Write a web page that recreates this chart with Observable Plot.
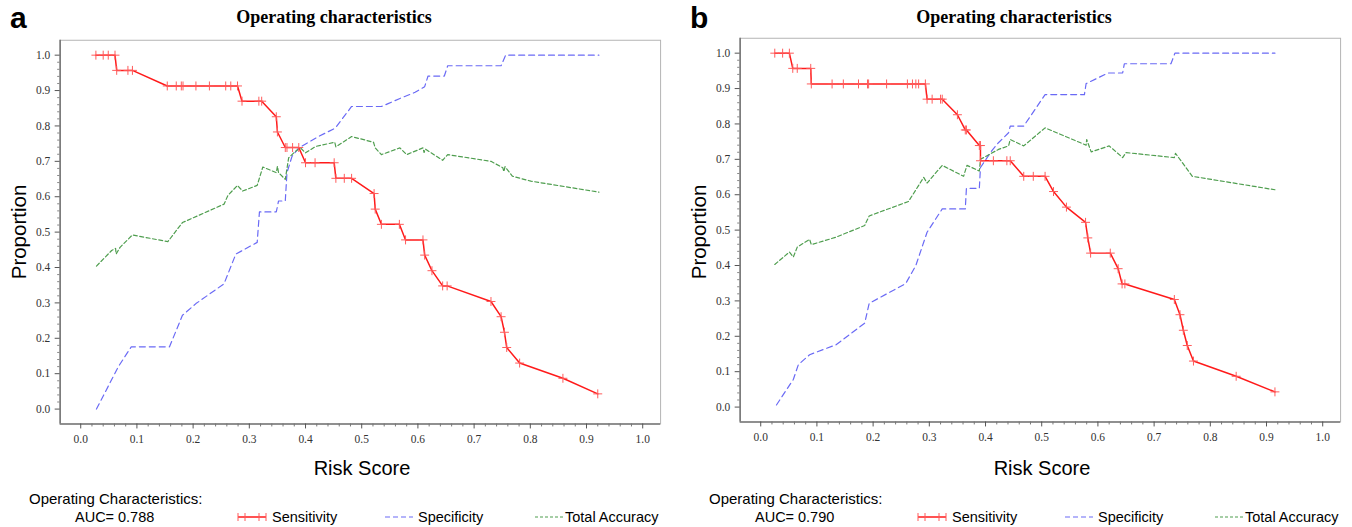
<!DOCTYPE html>
<html><head><meta charset="utf-8">
<script src="https://cdn.jsdelivr.net/npm/d3@7"></script>
<script src="https://cdn.jsdelivr.net/npm/@observablehq/plot@0.6"></script>
<style>
body{margin:0;background:#fff;}
#wrap{position:relative;width:1352px;height:527px;overflow:hidden;font-family:"Liberation Sans",Arial,sans-serif;color:#000;background:#fff;}
.panel{position:absolute;top:0;width:676px;height:527px;}
.plot{position:absolute;left:0;}
.plot text{font-family:"Liberation Serif","Times New Roman",serif !important;}
.letter{position:absolute;left:10px;top:3px;font-weight:bold;font-size:30px;line-height:1;}
.title{position:absolute;top:8px;transform:translateX(-50%);font-family:"Liberation Serif",serif;font-weight:bold;font-size:18px;line-height:1.1;white-space:nowrap;}
.ylab{position:absolute;left:19px;top:232px;transform:translate(-50%,-50%) rotate(-90deg);font-size:20.5px;white-space:nowrap;line-height:1;}
.xlab{position:absolute;left:362px;top:468px;transform:translate(-50%,-50%);font-size:20px;white-space:nowrap;line-height:1;}
.leg{position:absolute;font-size:14.5px;white-space:nowrap;transform:translateY(-50%);line-height:1;}
.sym{position:absolute;transform:translateY(-50%);}
</style></head>
<body>
<div id="wrap"></div>
<script>
// ---------- data ----------
const xTicks = [0.0,0.1,0.2,0.3,0.4,0.5,0.6,0.7,0.8,0.9,1.0];
const yTicks = [0.0,0.1,0.2,0.3,0.4,0.5,0.6,0.7,0.8,0.9,1.0];
const panelLetters = ["a","b"];
const panelTitles = ["Operating characteristics","Operating characteristics"];
const aucValues = ["0.788","0.790"];
const seriesNames = ["Sensitivity","Specificity","Total Accuracy"];

// Panel a
const aSensX = [0.027,0.040,0.049,0.061, 0.064,0.084,0.092, 0.154,0.170,0.179,0.182,0.205,0.229,0.258,0.267,0.279, 0.287,0.317,0.322, 0.348,0.350,0.364,0.367,0.377,0.388, 0.400,0.417,0.451, 0.454,0.469,0.482, 0.522,0.524,0.535,0.567, 0.578,0.609,0.612,0.625,0.644,0.652, 0.730,0.748,0.754,0.758,0.781,0.858,0.920];
const aSensY = [1.000,1.000,1.000,1.000, 0.957,0.957,0.957, 0.913,0.913,0.913,0.913,0.913,0.913,0.913,0.913,0.913, 0.870,0.870,0.870, 0.826,0.783,0.739,0.739,0.739,0.739, 0.696,0.696,0.696, 0.652,0.652,0.652, 0.609,0.565,0.522,0.522, 0.478,0.478,0.435,0.391,0.348,0.348, 0.304,0.261,0.217,0.174,0.130,0.087,0.043];
const aSpecX = [0.028,0.067,0.090,0.158,0.181,0.205,0.255,0.276,0.314,0.318,0.348,0.352,0.364,0.367,0.376,0.388,0.423,0.453,0.482,0.535,0.547,0.567,0.595,0.612,0.618,0.647,0.653,0.748,0.756,0.922];
const aSpecY = [0.000,0.120,0.176,0.176,0.265,0.298,0.354,0.438,0.471,0.557,0.557,0.588,0.588,0.668,0.714,0.738,0.770,0.794,0.855,0.855,0.863,0.877,0.895,0.911,0.941,0.941,0.970,0.970,1.000,1.000];
const aAccX = [0.028,0.055,0.062,0.063,0.070,0.092,0.155,0.181,0.255,0.262,0.279,0.288,0.314,0.324,0.348,0.350,0.352,0.364,0.370,0.382,0.391,0.400,0.418,0.452,0.454,0.482,0.521,0.524,0.535,0.568,0.580,0.609,0.611,0.613,0.644,0.653,0.730,0.751,0.753,0.755,0.768,0.801,0.922];
const aAccY = [0.404,0.448,0.454,0.438,0.457,0.492,0.473,0.527,0.579,0.604,0.632,0.616,0.632,0.684,0.668,0.686,0.668,0.649,0.710,0.728,0.738,0.724,0.742,0.754,0.741,0.770,0.754,0.738,0.719,0.738,0.719,0.738,0.725,0.735,0.703,0.719,0.700,0.682,0.671,0.685,0.658,0.644,0.613];

// Panel b
const bSensX = [0.025,0.039,0.051, 0.057,0.065,0.089, 0.090,0.127,0.147,0.174,0.190,0.192,0.224,0.261,0.270,0.276,0.281,0.293, 0.296,0.305,0.320,0.323, 0.350,0.364,0.366,0.389,0.391, 0.391,0.414,0.438,0.444, 0.468,0.485,0.506, 0.521,0.544,0.578,0.582,0.587,0.622,0.636,0.643,0.648, 0.736,0.746,0.752,0.759,0.770,0.846,0.915];
const bSensY = [1.000,1.000,1.000, 0.957,0.957,0.957, 0.913,0.913,0.913,0.913,0.913,0.913,0.913,0.913,0.913,0.913,0.913,0.913, 0.870,0.870,0.870,0.870, 0.826,0.783,0.783,0.739,0.739, 0.696,0.696,0.696,0.696, 0.652,0.652,0.652, 0.609,0.565,0.522,0.478,0.435,0.435,0.391,0.348,0.348, 0.304,0.261,0.217,0.174,0.130,0.087,0.043];
const bSpecX = [0.028,0.058,0.067,0.087,0.134,0.185,0.193,0.258,0.276,0.296,0.323,0.364,0.366,0.389,0.391,0.411,0.423,0.441,0.444,0.468,0.506,0.576,0.579,0.618,0.644,0.647,0.730,0.737,0.915];
const bSpecY = [0.006,0.078,0.120,0.148,0.176,0.237,0.293,0.349,0.400,0.494,0.560,0.560,0.618,0.618,0.677,0.724,0.747,0.775,0.794,0.794,0.883,0.883,0.914,0.944,0.944,0.970,0.970,1.000,1.000];
const bAccX = [0.025,0.051,0.058,0.065,0.087,0.090,0.134,0.185,0.193,0.263,0.290,0.296,0.323,0.361,0.367,0.389,0.391,0.423,0.441,0.444,0.468,0.506,0.579,0.580,0.588,0.620,0.644,0.650,0.736,0.738,0.768,0.915];
const bAccY = [0.403,0.438,0.424,0.452,0.474,0.459,0.480,0.513,0.540,0.581,0.649,0.633,0.683,0.652,0.683,0.667,0.700,0.728,0.738,0.756,0.738,0.789,0.740,0.756,0.721,0.738,0.705,0.719,0.705,0.717,0.652,0.614];

// ---------- styles ----------
const RED = "#ff1a1a", RED_MARK = "#ff5a5a", BLUE = "#6a6af5", GREEN = "#4f9e4f";
const zip = (xs, ys) => xs.map((x, i) => ({x, y: ys[i]}));
const plusSymbol = {draw(ctx, size){ const r = Math.sqrt(size/Math.PI); ctx.moveTo(-r,0); ctx.lineTo(r,0); ctx.moveTo(0,-r); ctx.lineTo(0,r); }};

const xDom = [-0.0366, 1.0318], yDom = [-0.0421, 1.0421];
const xMinor = d3.range(0, 1.0001, 0.02).filter(v => Math.abs(v*10 - Math.round(v*10)) > 1e-6);
const yMinor = d3.range(0, 1.0001, 0.02).filter(v => Math.abs(v*10 - Math.round(v*10)) > 1e-6);

function makePlot(sens, spec, acc) {
  return Plot.plot({
    width: 680, height: 460,
    marginLeft: 60, marginRight: 16, marginTop: 40, marginBottom: 34,
    x: {domain: xDom}, y: {domain: yDom},
    style: {fontFamily: "'Liberation Serif', serif", fontSize: "11.5px", color: "#333", background: "transparent", overflow: "visible"},
    marks: [
      Plot.frame({stroke: "#b4b4b4", strokeWidth: 1}),
      Plot.ruleX([xDom[0]], {stroke: "#777", strokeWidth: 1.6}),
      Plot.ruleY([yDom[0]], {stroke: "#777", strokeWidth: 1.6}),
      Plot.axisX(xTicks, {tickSize: 5, tickPadding: 6, tickFormat: d3.format(".1f"), label: null, stroke: "#555", fill: "#333"}),
      Plot.axisX(xMinor, {tickSize: 3, tickFormat: () => "", label: null, stroke: "#777"}),
      Plot.axisY(yTicks, {tickSize: 5, tickPadding: 5, tickFormat: d3.format(".1f"), label: null, stroke: "#555", fill: "#333"}),
      Plot.axisY(yMinor, {tickSize: 2.5, tickFormat: () => "", label: null, stroke: "#888"}),
      Plot.line(spec, {x: "x", y: "y", stroke: BLUE, strokeWidth: 1.2, strokeDasharray: "6,4"}),
      Plot.line(acc, {x: "x", y: "y", stroke: GREEN, strokeWidth: 1.2, strokeDasharray: "4,2.5"}),
      Plot.line(sens, {x: "x", y: "y", stroke: RED, strokeWidth: 1.5}),
      Plot.dot(sens, {x: "x", y: "y", symbol: plusSymbol, r: 4.5, stroke: RED_MARK, strokeWidth: 1, fill: "none"})
    ]
  });
}

function legendSym(kind) {
  const ns = "http://www.w3.org/2000/svg";
  const svg = document.createElementNS(ns, "svg");
  svg.setAttribute("width", 30); svg.setAttribute("height", 12);
  const line = document.createElementNS(ns, "line");
  line.setAttribute("x1", 1); line.setAttribute("x2", 29); line.setAttribute("y1", 6); line.setAttribute("y2", 6);
  if (kind === 0) {
    line.setAttribute("stroke", RED); line.setAttribute("stroke-width", 1.5);
    svg.appendChild(line);
    [1, 8, 22, 29].forEach(cx => {
      const p = document.createElementNS(ns, "path");
      p.setAttribute("d", `M${cx},2V10`);
      p.setAttribute("stroke", RED_MARK); p.setAttribute("stroke-width", 1);
      svg.appendChild(p);
    });
  } else if (kind === 1) {
    line.setAttribute("stroke", BLUE); line.setAttribute("stroke-width", 1.2); line.setAttribute("stroke-dasharray", "5,3");
    svg.appendChild(line);
  } else {
    line.setAttribute("stroke", GREEN); line.setAttribute("stroke-width", 1.2); line.setAttribute("stroke-dasharray", "3,2");
    svg.appendChild(line);
  }
  return svg;
}

const wrap = document.getElementById("wrap");
const panels = [
  {left: 0, dy: 0, sens: zip(aSensX, aSensY), spec: zip(aSpecX, aSpecY), acc: zip(aAccX, aAccY)},
  {left: 680, dy: -2, sens: zip(bSensX, bSensY), spec: zip(bSpecX, bSpecY), acc: zip(bAccX, bAccY)}
];
panels.forEach((p, i) => {
  const div = document.createElement("div");
  div.className = "panel"; div.style.left = p.left + "px";
  const plot = makePlot(p.sens, p.spec, p.acc);
  plot.classList.add("plot"); plot.style.top = p.dy + "px";
  div.appendChild(plot);
  const add = (cls, text, css) => { const e = document.createElement("div"); e.className = cls; e.textContent = text; Object.assign(e.style, css || {}); div.appendChild(e); return e; };
  add("letter", panelLetters[i]);
  add("title", panelTitles[i], {left: "334px"});
  add("ylab", "Proportion");
  add("xlab", "Risk Score");
  add("leg", "Operating Characteristics:", {left: "29px", top: "498px", fontSize: "15px"});
  add("leg", "AUC=", {left: "75px", top: "517px"});
  add("leg", aucValues[i], {left: "118px", top: "517px"});
  const symLeft = [237, 384, 534], txtLeft = [272, 418, 565];
  seriesNames.forEach((n, k) => {
    const s = legendSym(k); s.classList.add("sym"); s.style.left = symLeft[k] + "px"; s.style.top = "517px";
    div.appendChild(s);
    add("leg", n, {left: txtLeft[k] + "px", top: "517px"});
  });
  wrap.appendChild(div);
});
</script>
</body></html>
